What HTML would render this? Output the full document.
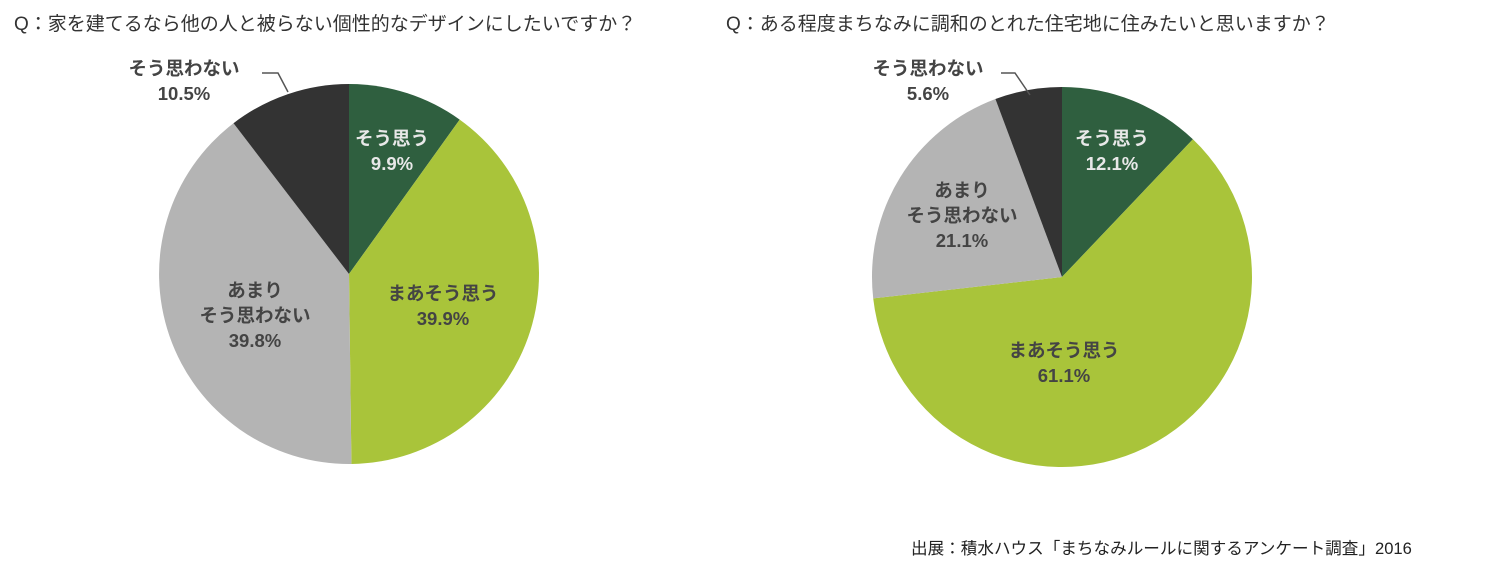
<!DOCTYPE html>
<html><head><meta charset="utf-8"><style>
body{margin:0;background:#fff;width:1500px;height:570px;overflow:hidden}
svg text{font-family:"Liberation Sans","Noto Sans CJK JP",sans-serif}
</style></head><body>
<svg width="1500" height="570" viewBox="0 0 1500 570">
<text x="14" y="30" font-size="19" fill="#333">Q：家を建てるなら他の人と被らない個性的なデザインにしたいですか？</text>
<text x="726" y="30" font-size="19" fill="#333">Q：ある程度まちなみに調和のとれた住宅地に住みたいと思いますか？</text>

<path d="M349,274 L349,84 A190,190 0 0 1 459.7,119.6 Z" fill="#2f5f3f"/>
<path d="M349,274 L459.7,119.6 A190,190 0 0 1 351.4,464 Z" fill="#a9c43a"/>
<path d="M349,274 L351.4,464 A190,190 0 0 1 233.5,123.2 Z" fill="#b4b4b4"/>
<path d="M349,274 L233.5,123.2 A190,190 0 0 1 349,84 Z" fill="#333333"/>
<path d="M262,73 L278,73 L288,92" fill="none" stroke="#555" stroke-width="1.5"/>
<g font-size="18.5" font-weight="bold" text-anchor="middle">
<text x="184" y="75" fill="#444">そう思わない</text>
<text x="184" y="100" fill="#444">10.5%</text>
<text x="392" y="145" fill="#e8e8e8">そう思う</text>
<text x="392" y="170" fill="#e8e8e8">9.9%</text>
<text x="443" y="300" fill="#444">まあそう思う</text>
<text x="443" y="325" fill="#444">39.9%</text>
<text x="255" y="297" fill="#444">あまり</text>
<text x="255" y="322" fill="#444">そう思わない</text>
<text x="255" y="347" fill="#444">39.8%</text>
</g>

<path d="M1062,277 L1062,87 A190,190 0 0 1 1192.9,139.3 Z" fill="#2f5f3f"/>
<path d="M1062,277 L1192.9,139.3 A190,190 0 1 1 873.2,298.4 Z" fill="#a9c43a"/>
<path d="M1062,277 L873.2,298.4 A190,190 0 0 1 995.4,99 Z" fill="#b4b4b4"/>
<path d="M1062,277 L995.4,99 A190,190 0 0 1 1062,87 Z" fill="#333333"/>
<path d="M1001,73 L1015,73 L1030,95" fill="none" stroke="#555" stroke-width="1.5"/>
<g font-size="18.5" font-weight="bold" text-anchor="middle">
<text x="928" y="75" fill="#444">そう思わない</text>
<text x="928" y="100" fill="#444">5.6%</text>
<text x="1112" y="145" fill="#e8e8e8">そう思う</text>
<text x="1112" y="170" fill="#e8e8e8">12.1%</text>
<text x="962" y="197" fill="#444">あまり</text>
<text x="962" y="222" fill="#444">そう思わない</text>
<text x="962" y="247" fill="#444">21.1%</text>
<text x="1064" y="357" fill="#444">まあそう思う</text>
<text x="1064" y="382" fill="#444">61.1%</text>
</g>
<text x="911" y="554" font-size="16.6" fill="#222" font-family="'Liberation Serif','Noto Serif CJK SC',serif">出展：積水ハウス「まちなみルールに関するアンケート調査」2016</text>
</svg>
</body></html>
